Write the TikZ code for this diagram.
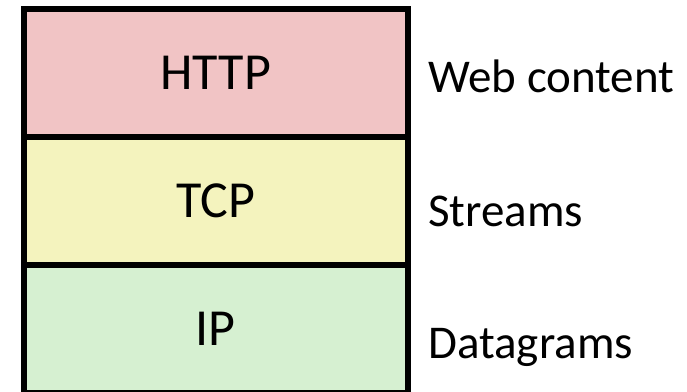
\documentclass[tikz,border=0pt]{standalone}
\usepackage{fontspec}
\setmainfont{Carlito}
\definecolor{httpfill}{RGB}{241,196,197}
\definecolor{tcpfill}{RGB}{244,243,190}
\definecolor{ipfill}{RGB}{214,240,209}
\tikzset{
  layer/.style={draw=black, line width=6pt, rectangle, minimum width=383.5pt, minimum height=128pt, inner sep=0pt, outer sep=0pt, font=\fontsize{52pt}{60pt}\selectfont},
  sidelabel/.style={anchor=base west, inner sep=0pt, font=\fontsize{47pt}{56pt}\selectfont}
}
\begin{document}
\begin{tikzpicture}[x=1pt,y=-1pt]
\useasboundingbox (0,0) rectangle (687,391);
\clip (0,0) rectangle (687,391);
\fill[white] (0,0) rectangle (687,391);
\node[layer, fill=httpfill] (http) at (215.75,73) {HTTP};
\node[layer, fill=tcpfill] (tcp) at (215.75,201) {TCP};
\node[layer, fill=ipfill] (ip) at (215.75,329) {IP};
\draw[line width=6pt] (http.south west) -- (http.south east);
\draw[line width=6pt] (tcp.south west) -- (tcp.south east);
\node[sidelabel] (web) at (428,92) {Web content};
\node[sidelabel] (streams) at (428,226) {Streams};
\node[sidelabel] (dgram) at (428,358) {Datagrams};
\end{tikzpicture}
\end{document}
